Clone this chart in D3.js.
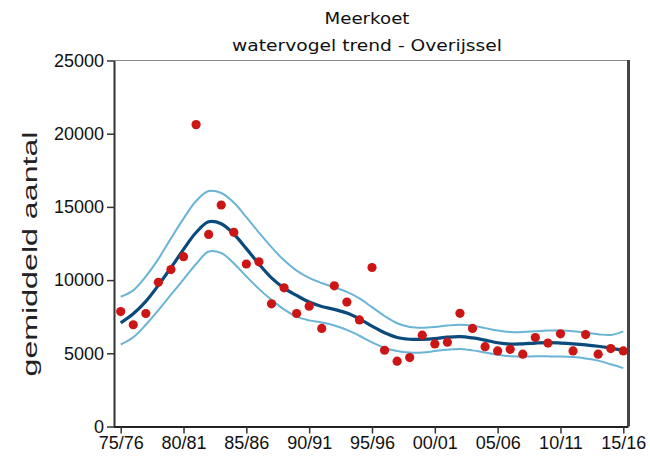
<!DOCTYPE html>
<html><head><meta charset="utf-8">
<script src="https://cdn.jsdelivr.net/npm/d3@7"></script>
<style>
html,body{margin:0;padding:0;background:#fff;}
svg{display:block;}
</style></head>
<body>
<svg id="c" width="650" height="456"></svg>
<script>
const seasons = ["75/76","76/77","77/78","78/79","79/80","80/81","81/82","82/83","83/84","84/85",
"85/86","86/87","87/88","88/89","89/90","90/91","91/92","92/93","93/94","94/95",
"95/96","96/97","97/98","98/99","99/00","00/01","01/02","02/03","03/04","04/05",
"05/06","06/07","07/08","08/09","09/10","10/11","11/12","12/13","13/14","14/15","15/16"];
const counts = [7850,6950,7720,9850,10720,11600,20620,13120,15130,13270,
11100,11250,8380,9470,7720,8220,6700,9610,8500,7280,
10860,5210,4460,4710,6240,5640,5760,7730,6700,5450,
5160,5270,4940,6080,5700,6330,5160,6280,4940,5320,5160];
const trend = [7080,7700,8550,9650,10850,12100,13250,13980,13850,13150,
12150,11100,10150,9450,8950,8500,8200,8000,7750,7350,
6850,6400,6080,5960,5950,6000,6100,6140,6050,5900,
5720,5630,5650,5700,5730,5700,5650,5580,5480,5350,5200];
const upper = [8860,9300,10250,11450,12850,14200,15400,16080,15950,15300,
14300,13250,12250,11350,10650,10150,9800,9500,9200,8750,
8150,7550,7050,6800,6750,6800,6900,6950,6880,6720,
6560,6460,6450,6500,6550,6550,6500,6400,6300,6250,6500];
const lower = [5600,6100,6950,7950,9000,10050,11100,11950,11850,11150,
10250,9400,8650,8000,7500,7250,7100,6900,6600,6200,
5750,5380,5150,5050,5050,5150,5250,5300,5200,5050,
4900,4800,4790,4790,4790,4780,4740,4650,4500,4250,3990];
const yTicks = [0,5000,10000,15000,20000,25000];
const xTickLabels = ["75/76","80/81","85/86","90/91","95/96","00/01","05/06","10/11","15/16"];
const title1 = "Meerkoet";
const title2 = "watervogel trend - Overijssel";
const yTitle = "gemiddeld aantal";

const svg = d3.select("#c");
const L = 114, R = 628.5, T = 60.5, B = 426.5;
const x = d3.scalePoint().domain(seasons).range([120.7, 623.3]);
const y = d3.scaleLinear().domain([0,25000]).range([B, T]);

// frame
svg.append("line").attr("x1",L).attr("x2",R).attr("y1",T).attr("y2",T).attr("stroke","#8a8a8a").attr("stroke-width",1);
svg.append("line").attr("x1",R).attr("x2",R).attr("y1",T-0.5).attr("y2",B).attr("stroke","#444").attr("stroke-width",3);

const tickFont = "'Liberation Sans', Arial, sans-serif";
// y axis
const ya = svg.append("g").attr("transform",`translate(${L},0)`)
  .call(d3.axisLeft(y).tickValues(yTicks).tickFormat(d3.format("d")).tickSize(7).tickSizeOuter(0).tickPadding(3));
ya.select(".domain").attr("stroke","#333").attr("stroke-width",2);
ya.selectAll(".tick line").attr("stroke","#333").attr("stroke-width",1.5);
ya.selectAll("text").attr("font-family",tickFont).attr("font-size","18px").attr("fill","#111");

// x axis
const xa = svg.append("g").attr("transform",`translate(0,${B})`)
  .call(d3.axisBottom(x).tickValues(xTickLabels).tickSize(7).tickSizeOuter(0).tickPadding(3));
xa.select(".domain").attr("d",`M${L},0.5H${R}`).attr("stroke","#222").attr("stroke-width",2);
xa.selectAll(".tick line").attr("stroke","#333").attr("stroke-width",1.5);
xa.selectAll("text").attr("font-family",tickFont).attr("font-size","18px").attr("fill","#111");

// lines
const line = d3.line().x((d,i)=>x(seasons[i])).y(d=>y(d)).curve(d3.curveCatmullRom.alpha(0.5));
svg.append("path").attr("d",line(upper)).attr("fill","none").attr("stroke","#6ab4d6").attr("stroke-width",2);
svg.append("path").attr("d",line(lower)).attr("fill","none").attr("stroke","#6ab4d6").attr("stroke-width",2);
svg.append("path").attr("d",line(trend)).attr("fill","none").attr("stroke","#0b4a7c").attr("stroke-width",3.2);

// points
svg.append("g").selectAll("circle").data(counts).join("circle")
  .attr("cx",(d,i)=>x(seasons[i])).attr("cy",d=>y(d)).attr("r",4.6).attr("fill","#cc1515");

// titles
const tFont = "'DejaVu Sans', Verdana, sans-serif";
svg.append("text").attr("x",367).attr("y",24).attr("text-anchor","middle").attr("font-family",tFont).attr("font-size","15px")
  .attr("textLength",85).attr("lengthAdjust","spacingAndGlyphs").attr("fill","#111").text(title1);
svg.append("text").attr("x",367).attr("y",51).attr("text-anchor","middle").attr("font-family",tFont).attr("font-size","15px")
  .attr("textLength",270).attr("lengthAdjust","spacingAndGlyphs").attr("fill","#111").text(title2);

svg.append("text").attr("transform","translate(37,254) rotate(-90)").attr("text-anchor","middle")
  .attr("font-family",tickFont).attr("font-size","21px").attr("textLength",245).attr("lengthAdjust","spacingAndGlyphs")
  .attr("fill","#222").text(yTitle);
</script>
</body></html>
